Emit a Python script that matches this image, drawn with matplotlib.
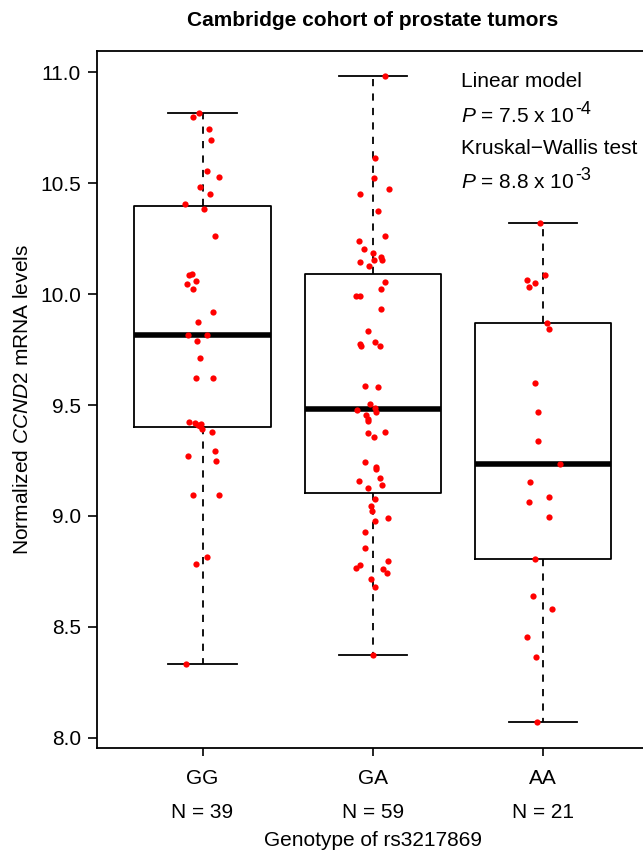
import numpy as np
import matplotlib
matplotlib.use('Agg')
import matplotlib.pyplot as plt
import matplotlib.transforms as mtransforms

plt.rcParams['font.family'] = ['Liberation Sans', 'DejaVu Sans']
plt.rcParams['mathtext.fontset'] = 'custom'
plt.rcParams['mathtext.rm'] = 'Liberation Sans'
plt.rcParams['mathtext.it'] = 'Liberation Sans:italic'

# genotype groups
genotypes = ['GG', 'GA', 'AA']
counts = [39, 59, 21]

# box statistics
q1 = [9.40, 9.104, 8.806]
medians = [9.818, 9.480, 9.232]
q3 = [10.397, 10.089, 9.872]
whislo = [8.334, 8.373, 8.069]
whishi = [10.818, 10.983, 10.319]

# individual samples (mRNA level) and their horizontal jitter
gg_vals = [10.818, 10.797, 10.746, 10.695, 10.555, 10.528, 10.481, 10.453, 10.408, 10.386,
           10.260, 10.092, 10.084, 10.057, 10.045, 10.021, 9.919, 9.875, 9.818, 9.818,
           9.789, 9.710, 9.624, 9.620, 9.422, 9.417, 9.411, 9.413, 9.390, 9.379,
           9.292, 9.272, 9.247, 9.093, 9.096, 8.815, 8.785, 8.334, 9.405]
gg_jit = [-0.018, -0.053, 0.041, 0.047, 0.025, 0.094, -0.012, 0.045, -0.104, 0.006,
          0.076, -0.061, -0.082, -0.041, -0.090, -0.055, 0.063, -0.024, -0.086, 0.029,
          -0.031, -0.014, -0.037, 0.063, -0.078, -0.045, -0.025, -0.008, -0.004, 0.053,
          0.075, -0.088, 0.078, -0.055, 0.096, 0.029, -0.041, -0.096, -0.015]

ga_vals = [10.983, 10.612, 10.525, 10.475, 10.451, 10.374, 10.263, 10.239, 10.203, 10.187,
           10.167, 10.156, 10.155, 10.146, 10.125, 10.054, 10.022, 9.990, 9.993, 9.931,
           9.832, 9.776, 9.766, 9.782, 9.767, 9.587, 9.580, 9.505, 9.486, 9.478,
           9.468, 9.457, 9.438, 9.427, 9.376, 9.377, 9.358, 9.245, 9.221, 9.212,
           9.173, 9.158, 9.140, 9.126, 9.078, 9.047, 9.021, 8.979, 8.989, 8.926,
           8.856, 8.796, 8.778, 8.764, 8.759, 8.744, 8.714, 8.681, 8.373]
ga_jit = [0.071, 0.012, 0.006, 0.094, -0.075, 0.033, 0.073, -0.078, -0.053, 0.004,
          0.049, 0.055, 0.006, -0.072, -0.024, 0.073, 0.051, -0.096, -0.076, 0.051,
          -0.029, -0.072, -0.071, 0.016, 0.043, -0.043, 0.033, -0.014, 0.014, -0.092,
          0.022, -0.037, -0.028, -0.025, -0.029, 0.073, 0.008, -0.047, 0.018, 0.018,
          0.041, -0.080, 0.055, -0.028, 0.012, -0.010, -0.006, 0.014, 0.088, -0.045,
          -0.047, 0.092, -0.072, -0.096, 0.061, 0.082, -0.008, 0.014, 0.000]

aa_vals = [10.319, 10.087, 10.063, 10.051, 10.033, 9.871, 9.844, 9.598, 9.469, 9.337,
           9.235, 9.154, 9.086, 9.065, 8.994, 8.806, 8.641, 8.579, 8.453, 8.364, 8.069]
aa_jit = [-0.018, 0.014, -0.096, -0.047, -0.080, 0.024, 0.037, -0.049, -0.029, -0.029,
          0.098, -0.075, 0.035, -0.080, 0.033, -0.047, -0.061, 0.051, -0.092, -0.039, -0.037]

group_vals = [gg_vals, ga_vals, aa_vals]
group_jit = [gg_jit, ga_jit, aa_jit]

# test results shown top right
tests = ['Linear model', 'Kruskal\u2212Wallis test']
p_mant = ['7.5', '8.8']
p_exp = ['-4', '-3']

fs = 15
fig = plt.figure(figsize=(6.43, 8.5), dpi=100)
ax = fig.add_axes([97 / 643, 1 - 748 / 850, (648.4 - 97) / 643, (748 - 51) / 850])

positions = np.arange(1, len(genotypes) + 1)
stats = [dict(med=medians[i], q1=q1[i], q3=q3[i], whislo=whislo[i], whishi=whishi[i])
         for i in range(len(genotypes))]
ax.bxp(stats, positions=positions, widths=0.8, capwidths=0.4, showfliers=False,
       boxprops=dict(color='black', linewidth=1.3),
       whiskerprops=dict(color='black', linewidth=1.3, linestyle=(0, (4, 4))),
       capprops=dict(color='black', linewidth=1.3),
       medianprops=dict(color='black', linewidth=4, solid_capstyle='butt'))

for pos, vals, jit in zip(positions, group_vals, group_jit):
    ax.plot(pos + np.array(jit), vals, 'o', color='red', ms=4.5, mec='none', zorder=5)

ax.set_xlim(0.38, 3.62)
ax.set_ylim(7.954, 11.096)
ax.set_yticks(np.arange(8.0, 11.01, 0.5))
ax.set_yticklabels(['{:.1f}'.format(v) for v in np.arange(8.0, 11.01, 0.5)])
ax.set_xticks(positions)
ax.set_xticklabels(genotypes)
ax.tick_params(axis='both', labelsize=fs, direction='out', width=1.2, color='black')
ax.tick_params(axis='y', length=6.5, pad=5)
ax.tick_params(axis='x', length=5.8, pad=9)
for sp in ax.spines.values():
    sp.set_linewidth(1.3)

# N labels under genotype names
trans = mtransforms.blended_transform_factory(ax.transData, fig.transFigure)
for pos, n in zip(positions, counts):
    ax.text(pos, 1 - 818 / 850, 'N = {}'.format(n), transform=trans, ha='center',
            va='baseline', fontsize=fs)

fig.text(372.5 / 643, 1 - 846.5 / 850, 'Genotype of rs3217869', ha='center', va='baseline', fontsize=fs)
fig.text(23 / 643, 1 - 400 / 850, r'Normalized $\it{CCND2}$ mRNA levels', rotation=90,
         ha='center', va='center', fontsize=fs)
fig.text(372.5 / 643, 1 - 20 / 850, 'Cambridge cohort of prostate tumors', ha='center',
         va='center', fontsize=15, fontweight='bold')

txt_x = 461 / 643
name_y = [86.7, 154]
p_y = [121.7, 188.3]
renderer = fig.canvas.get_renderer()
for name, ny, py, m, e in zip(tests, name_y, p_y, p_mant, p_exp):
    fig.text(txt_x, 1 - ny / 850, name, va='baseline', fontsize=fs)
    t = fig.text(txt_x, 1 - py / 850, r'$\it{P}$ = ' + m + ' x 10', va='baseline', fontsize=fs)
    bb = t.get_window_extent(renderer)
    fig.text((bb.x1 + 1) / 643, 1 - (py - 8) / 850, e, va='baseline', fontsize=13)

fig.savefig('out.png', dpi=100)
